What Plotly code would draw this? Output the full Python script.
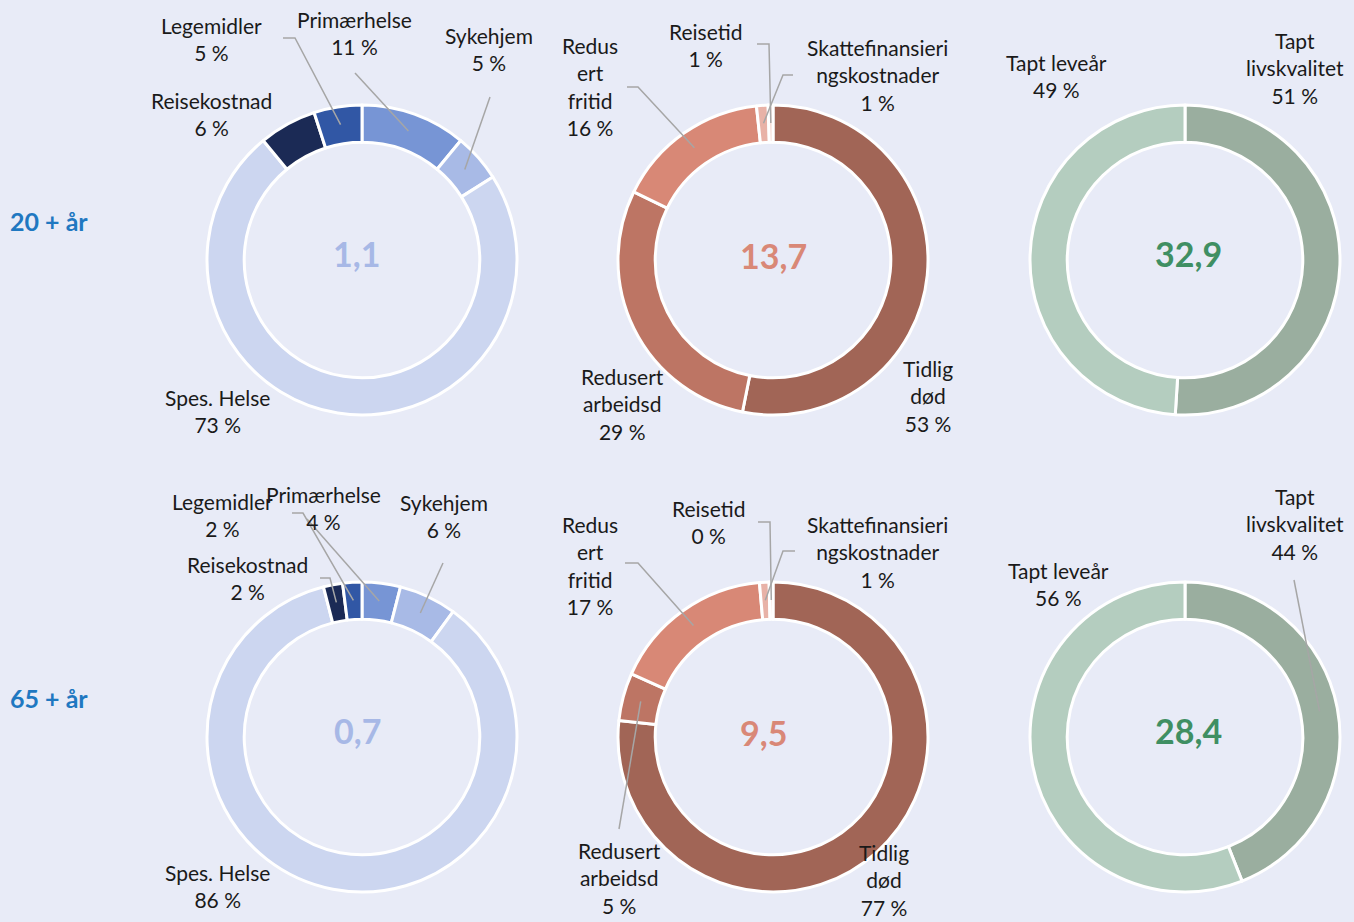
import math
import plotly.graph_objects as go

W, H = 1354, 922

# ---------------- data ----------------
row_labels = ["20 + år", "65 + år"]

cost_categories = ["Primærhelse", "Sykehjem", "Spes. Helse", "Reisekostnad", "Legemidler"]
cost_display = ["Primærhelse", "Sykehjem", "Spes. Helse", "Reisekostnad", "Legemidler"]
cost_20 = [11, 5, 73, 6, 5]
cost_65 = [4, 6, 86, 2, 2]
cost_colors = ["#7795D5", "#A8BAE6", "#CCD6F0", "#1B2A55", "#3157A5"]

prod_categories = ["Tidlig død", "Redusert arbeidsd", "Redusert fritid",
                   "Skattefinansieringskostnader", "Reisetid"]
prod_display = ["Tidlig<br>død", "Redusert<br>arbeidsd", "Redus<br>ert<br>fritid",
                "Skattefinansieri<br>ngskostnader", "Reisetid"]
prod_20 = [53, 29, 16, 1.2, 0.5]
prod_65 = [77, 5, 17, 1.0, 0.4]
prod_colors = ["#A16556", "#BD7564", "#D88876", "#E8B2A7", "#F3D6CF"]

qol_categories = ["Tapt livskvalitet", "Tapt leveår"]
qol_display = ["Tapt<br>livskvalitet", "Tapt leveår"]
qol_20 = [51, 49]
qol_65 = [44, 56]
qol_colors = ["#9AAE9F", "#B4CDBF"]

totals_20 = [1.1, 13.7, 32.9]
totals_65 = [0.7, 9.5, 28.4]
total_colors = ["#A7B8E6", "#D98877", "#3F8F63"]

# ---------------- layout helpers (pixel positions) ----------------
R_OUT = 155
R_MID = 137
col_cx = [362, 773, 1185]
row_cy = [260, 737]
row_label_y = [221, 698]
total_pos = [[(356, 253), (773, 256), (1188, 253)],
             [(357, 730), (763, 732), (1188, 730)]]

# label positions: (label_x, label_y, line points from label side or None)
label_layout = {
    (0, 0): [(354, 33, [(355, 73)]), (489, 49, [(490, 97)]), (217, 411, None),
             (212, 114, None), (212, 39, [(283, 38), (295, 38)])],
    (0, 1): [(928, 396, None), (622, 404, None), (590, 87, [(627, 87), (638, 87)]),
             (878, 75, [(793, 75), (783, 75)]), (705, 45, [(757, 44), (769, 44)])],
    (0, 2): [(1295, 68, None), (1056, 76, None)],
    (1, 0): [(323, 508, [(307, 519)]), (444, 516, [(443, 563)]), (217, 886, None),
             (248, 578, [(320, 578), (330, 578)]), (222, 515, [(292, 513), (303, 513)])],
    (1, 1): [(884, 880, None), (619, 878, [(619, 829)]), (590, 565, [(625, 563), (638, 563)]),
             (878, 552, [(795, 551), (783, 551)]), (708, 522, [(758, 522), (770, 522)])],
    (1, 2): [(1295, 524, [(1294, 580)]), (1058, 584, None)],
}

FONT = "Lato, 'Open Sans', sans-serif"
TXT = "#1A1A1A"
LINE_COL = "#A6A6A6"


def px(x):
    return x / W


def py(y):
    return 1 - y / H


fig = go.Figure()
annotations = []
shapes = []

charts = [
    [(cost_display, cost_20, cost_colors), (prod_display, prod_20, prod_colors),
     (qol_display, qol_20, qol_colors)],
    [(cost_display, cost_65, cost_colors), (prod_display, prod_65, prod_colors),
     (qol_display, qol_65, qol_colors)],
]
totals = [totals_20, totals_65]

for r in range(2):
    for c in range(3):
        names, vals, cols = charts[r][c]
        cx, cy = col_cx[c], row_cy[r]
        fig.add_trace(go.Pie(
            labels=[n.replace("<br>", " ") for n in names],
            values=vals,
            marker=dict(colors=cols, line=dict(color="white", width=3)),
            hole=0.76,
            sort=False,
            direction="clockwise",
            rotation=0,
            textinfo="none",
            hoverinfo="label+percent",
            showlegend=False,
            domain=dict(x=[px(cx - R_OUT), px(cx + R_OUT)],
                        y=[py(cy + R_OUT), py(cy - R_OUT)]),
        ))
        total = sum(vals)
        cum = 0
        for i, v in enumerate(vals):
            mid = (cum + v / 2) / total * 2 * math.pi
            cum += v
            tx = cx + R_MID * math.sin(mid)
            ty = cy - R_MID * math.cos(mid)
            lx, ly, pts = label_layout[(r, c)][i]
            pct = round(v / total * 100)
            annotations.append(dict(
                x=px(lx), y=py(ly), xref="paper", yref="paper",
                text=f"{names[i]}<br>{pct} %", showarrow=False,
                font=dict(family=FONT, size=21, color=TXT),
                align="center", xanchor="center", yanchor="middle"))
            if pts:
                path = "M " + " L ".join(f"{px(x)} {py(y)}" for x, y in pts + [(tx, ty)])
                shapes.append(dict(type="path", xref="paper", yref="paper", path=path,
                                   line=dict(color=LINE_COL, width=1.5)))
        tpx, tpy = total_pos[r][c]
        annotations.append(dict(
            x=px(tpx), y=py(tpy), xref="paper", yref="paper",
            text=f"<b>{totals[r][c]:.1f}</b>".replace(".", ","), showarrow=False,
            font=dict(family=FONT, size=34, color=total_colors[c]),
            xanchor="center", yanchor="middle"))

for r in range(2):
    annotations.append(dict(
        x=px(8), y=py(row_label_y[r]), xref="paper", yref="paper",
        text=f"<b>{row_labels[r]}</b>", showarrow=False,
        font=dict(family=FONT, size=25, color="#1F78C1"),
        xanchor="left", yanchor="middle"))

fig.update_layout(
    width=W, height=H,
    margin=dict(l=0, r=0, t=0, b=0),
    paper_bgcolor="#E8EBF7",
    plot_bgcolor="#E8EBF7",
    annotations=annotations,
    shapes=shapes,
)

fig.write_html(
    "out.html",
    config={"displayModeBar": False},
    post_script="document.body.style.margin='0';document.body.style.padding='0';"
                "document.body.style.overflow='hidden';"
                "document.body.style.background='#E8EBF7';",
)
